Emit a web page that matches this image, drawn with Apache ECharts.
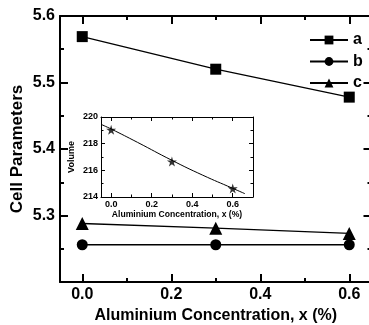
<!DOCTYPE html>
<html>
<head>
<meta charset="utf-8">
<script src="https://cdn.jsdelivr.net/npm/echarts@6/dist/echarts.min.js"></script>
<style>
html,body{margin:0;padding:0;background:#fff}
#chart{width:369px;height:325px}
</style>
</head>
<body>
<div id="chart"></div>
<script>
// data
const conc = [0.0, 0.3, 0.6];
const paramA = [5.569, 5.52, 5.478];
const paramB = [5.256, 5.256, 5.256];
const paramC = [5.288, 5.281, 5.273];
const volume = [219.04, 216.66, 214.64];
// fitted curve of the inset
const fitX = [-0.05, 0, 0.13, 0.3, 0.45, 0.6, 0.66];
const fitY = [219.45, 219.1, 218.1, 216.75, 215.65, 214.65, 214.25];
const xMajor = [0, 0.2, 0.4, 0.6];
const xMinor = [0.1, 0.3, 0.5];

const font = 'Liberation Sans, Arial, sans-serif';
const star = 'path://M50,0 L61,35 L98,35 L68,57 L79,91 L50,70 L21,91 L32,57 L2,35 L39,35 Z';

// one x position (bottom/top) = a major axis + a minor-tick axis
function xPair(grid, min, max, pos, w, major, minor, label) {
    const base = {
        type: 'value', gridIndex: grid, min: min, max: max, position: pos,
        splitLine: {show: false}
    };
    return [
        Object.assign({}, base, {
            axisLine: {show: true, onZero: false, lineStyle: {color: '#000', width: w}},
            axisTick: {show: true, inside: true, length: major, customValues: xMajor, lineStyle: {color: '#000', width: w}},
            axisLabel: label ? Object.assign({customValues: xMajor, formatter: v => v.toFixed(1)}, label) : {show: false}
        }),
        Object.assign({}, base, {
            axisLine: {show: false},
            axisTick: {show: true, inside: true, length: minor, customValues: xMinor, lineStyle: {color: '#000', width: w}},
            axisLabel: {show: false}
        })
    ];
}

function yAxis(grid, min, max, step, pos, w, major, minor, label, digits) {
    return {
        type: 'value', gridIndex: grid, min: min, max: max, interval: step, position: pos,
        splitLine: {show: false},
        axisLine: {show: true, onZero: false, lineStyle: {color: '#000', width: w}},
        axisTick: {show: true, inside: true, length: major, lineStyle: {color: '#000', width: w}},
        minorTick: {show: true, splitNumber: 2, length: minor, lineStyle: {color: '#000', width: w}},
        axisLabel: label ? Object.assign({formatter: v => v.toFixed(digits)}, label) : {show: false}
    };
}

// axis title, kept where nameGap puts it
function setName(ax, text, gap, size) {
    ax.name = text;
    ax.nameLocation = 'middle';
    ax.nameGap = gap;
    ax.nameMoveOverlap = false;
    ax.nameTextStyle = {fontFamily: font, fontWeight: 'bold', fontSize: size, color: '#000'};
}

const mainLabel = {fontFamily: font, fontWeight: 'bold', fontSize: 16, color: '#000'};
const insetLabel = {fontFamily: font, fontWeight: 'bold', fontSize: 9, color: '#000'};

let xAxes = [].concat(
    xPair(0, -0.05, 0.65, 'bottom', 2, 8, 4, Object.assign({margin: 5}, mainLabel)),
    xPair(0, -0.05, 0.65, 'top', 2, 8, 4, null),
    xPair(1, -0.05, 0.7, 'bottom', 1, 4, 2.5, Object.assign({margin: 3}, insetLabel)),
    xPair(1, -0.05, 0.7, 'top', 1, 4, 2.5, null)
);
setName(xAxes[0], 'Aluminium Concentration, x (%)', 26, 16);
setName(xAxes[4], 'Aluminium Concentration, x (%)', 13, 8.6);

let yAxes = [
    yAxis(0, 5.2, 5.6, 0.1, 'left', 2, 8, 4, Object.assign({margin: 5, showMinLabel: false}, mainLabel), 1),
    yAxis(0, 5.2, 5.6, 0.1, 'right', 2, 8, 4, null, 1),
    yAxis(1, 214, 220, 2, 'left', 1, 4, 2.5, Object.assign({margin: 3}, insetLabel), 0),
    yAxis(1, 214, 220, 2, 'right', 1, 4, 2.5, null, 0)
];
setName(yAxes[0], 'Cell Parameters', 34, 17);
setName(yAxes[2], 'Volume', 25, 9);

function paramSeries(name, vals, symbol, size) {
    return {
        name: name, type: 'line', xAxisIndex: 0, yAxisIndex: 0,
        data: conc.map((x, i) => [x, vals[i]]),
        symbol: symbol, symbolSize: size,
        itemStyle: {color: '#000'},
        lineStyle: {color: '#000', width: 1.3}
    };
}

let myChart = echarts.init(document.getElementById('chart'));
myChart.setOption({
    animation: false,
    backgroundColor: '#fff',
    grid: [
        {left: 60, top: 16, right: -2.5, bottom: 43, outerBoundsMode: 'none', containLabel: false},
        {left: 101, top: 117, width: 152, height: 80, outerBoundsMode: 'none', containLabel: false,
         backgroundColor: '#fff', show: true, borderWidth: 0}
    ],
    legend: {
        data: ['a', 'b', 'c'],
        orient: 'vertical',
        left: 309, top: 32, padding: 0,
        itemWidth: 38, itemHeight: 11, itemGap: 5.5,
        textStyle: {fontFamily: font, fontWeight: 'bold', fontSize: 16, lineHeight: 16, color: '#000'}
    },
    xAxis: xAxes,
    yAxis: yAxes,
    series: [
        paramSeries('a', paramA, 'rect', 11),
        paramSeries('b', paramB, 'circle', 11),
        paramSeries('c', paramC, 'triangle', 13),
        {
            type: 'line', xAxisIndex: 4, yAxisIndex: 2,
            data: fitX.map((x, i) => [x, fitY[i]]),
            smooth: true, showSymbol: false,
            lineStyle: {color: '#000', width: 1}
        },
        {
            type: 'scatter', xAxisIndex: 4, yAxisIndex: 2,
            data: conc.map((x, i) => [x, volume[i]]),
            symbol: star, symbolSize: 10,
            itemStyle: {color: '#000'}
        }
    ]
});
</script>
</body>
</html>
